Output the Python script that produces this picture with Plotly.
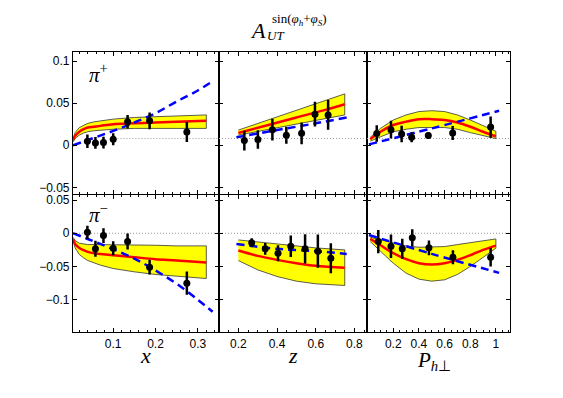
import plotly.graph_objects as go

RED = "#FF0000"
BLUE = "#0000FF"
YELLOW = "#FFFF00"

# ---- x panel ----
X_BAND = [0.005, 0.01, 0.02, 0.03, 0.04, 0.055, 0.07, 0.1, 0.15, 0.2, 0.25, 0.32]
X_PIP_UP = [0.008, 0.015, 0.021, 0.024, 0.026, 0.0278, 0.029, 0.031, 0.033, 0.034, 0.035, 0.036]
X_PIP_LO = [0.004, 0.008, 0.012, 0.0145, 0.016, 0.0172, 0.018, 0.019, 0.020, 0.020, 0.020, 0.020]
X_PIP_MID = [0.006, 0.011, 0.016, 0.019, 0.021, 0.022, 0.023, 0.025, 0.026, 0.027, 0.028, 0.029]
X_PIM_UP = [-0.006, -0.011, -0.015, -0.0163, -0.017, -0.017, -0.017, -0.017, -0.018, -0.018, -0.019, -0.019]
X_PIM_LO = [-0.011, -0.022, -0.032, -0.037, -0.041, -0.045, -0.048, -0.053, -0.058, -0.062, -0.065, -0.068]
X_PIM_MID = [-0.009, -0.016, -0.022, -0.0255, -0.028, -0.030, -0.031, -0.033, -0.036, -0.039, -0.041, -0.044]
X_DASH = [0.005, 0.05, 0.1, 0.15, 0.2, 0.25, 0.3, 0.335]
X_PIP_DASH = [0.0, 0.008, 0.017, 0.027, 0.038, 0.052, 0.065, 0.076]
X_PIM_DASH = [0.0, -0.011, -0.024, -0.038, -0.056, -0.076, -0.1, -0.118]
X_PTS = [0.039, 0.058, 0.077, 0.100, 0.134, 0.186, 0.274]
X_PIP_VAL = [0.0047, 0.0027, 0.0032, 0.0071, 0.028, 0.029, 0.0157]
X_PIP_ERR = [0.008, 0.007, 0.007, 0.007, 0.008, 0.010, 0.012]
X_PIM_VAL = [0.0015, -0.0234, -0.0035, -0.0225, -0.0125, -0.051, -0.075]
X_PIM_ERR = [0.010, 0.012, 0.011, 0.0105, 0.012, 0.011, 0.0175]

# ---- z panel ----
Z_BAND_P = [0.2, 0.35, 0.5, 0.65, 0.75]
Z_PIP_UP = [0.018, 0.0297, 0.0414, 0.053, 0.061]
Z_PIP_LO = [0.012, 0.0185, 0.025, 0.0315, 0.036]
Z_PIP_MID = [0.0145, 0.0238, 0.033, 0.042, 0.0486]
Z_BAND_M = [0.2, 0.3, 0.4, 0.5, 0.6, 0.75]
Z_PIM_UP = [-0.010, -0.013, -0.017, -0.020, -0.022, -0.025]
Z_PIM_MID = [-0.026, -0.034, -0.040, -0.045, -0.049, -0.052]
Z_PIM_LO = [-0.041, -0.055, -0.065, -0.072, -0.076, -0.0785]
Z_DASH = [0.19, 0.4, 0.6, 0.76]
Z_PIP_DASH = [0.0094, 0.018, 0.026, 0.033]
Z_PIM_DASH = [-0.016, -0.0234, -0.027, -0.031]
Z_PTS = [0.269, 0.339, 0.405, 0.471, 0.545, 0.611, 0.678]
Z_PIP_PTS = [0.231, 0.301, 0.376, 0.448, 0.527, 0.596, 0.664]
Z_PIP_VAL = [0.0055, 0.0067, 0.0185, 0.0118, 0.0141, 0.0368, 0.036]
Z_PIP_ERR = [0.0118, 0.011, 0.013, 0.010, 0.013, 0.0147, 0.0176]
Z_PIM_VAL = [-0.0144, -0.0234, -0.030, -0.0195, -0.0234, -0.027, -0.0375]
Z_PIM_ERR = [0.0068, 0.0088, 0.012, 0.016, 0.022, 0.025, 0.0225]

# ---- P_hT panel ----
P_BAND = [0.02, 0.1, 0.2, 0.3, 0.4, 0.5, 0.6, 0.7, 0.8, 0.9, 1.0]
P_PIP_MID = [0.007, 0.016, 0.024, 0.028, 0.031, 0.031, 0.030, 0.027, 0.022, 0.016, 0.0106]
P_PIP_UP = [0.0094, 0.020, 0.030, 0.036, 0.040, 0.041, 0.040, 0.036, 0.030, 0.023, 0.0165]
P_PIP_LO = [0.0047, 0.010, 0.016, 0.019, 0.021, 0.021, 0.021, 0.019, 0.015, 0.011, 0.0079]
P_PIM_MID = [-0.0085, -0.018, -0.030, -0.039, -0.045, -0.047, -0.045, -0.040, -0.033, -0.025, -0.0185]
P_PIM_UP = [-0.006, -0.010, -0.015, -0.019, -0.021, -0.021, -0.020, -0.017, -0.014, -0.011, -0.0085]
P_PIM_LO = [-0.0125, -0.027, -0.045, -0.060, -0.069, -0.072, -0.070, -0.062, -0.050, -0.036, -0.0225]
P_DASH = [0.01, 0.5, 1.025]
P_PIP_DASH = [0.001, 0.020, 0.041]
P_PIM_DASH = [-0.0025, -0.031, -0.0595]
P_PIP_PTS = [0.071, 0.182, 0.265, 0.343, 0.473, 0.663, 0.959]
P_PIP_VAL = [0.0138, 0.0185, 0.0133, 0.0094, 0.0114, 0.0145, 0.0215]
P_PIP_ERR = [0.0098, 0.0106, 0.0098, 0.0059, 0.0039, 0.0082, 0.0127]
P_PIM_PTS = [0.083, 0.182, 0.270, 0.348, 0.478, 0.665, 0.959]
P_PIM_VAL = [-0.0125, -0.0195, -0.0234, -0.0069, -0.0219, -0.036, -0.036]
P_PIM_ERR = [0.0175, 0.0175, 0.015, 0.013, 0.011, 0.0105, 0.0138]

panels = [
    # (row, col, band x, up, lo, mid, dash x, dash y, pts x, vals, errs)
    (1, 1, X_BAND, X_PIP_UP, X_PIP_LO, X_PIP_MID, X_DASH, X_PIP_DASH, X_PTS, X_PIP_VAL, X_PIP_ERR),
    (1, 2, Z_BAND_P, Z_PIP_UP, Z_PIP_LO, Z_PIP_MID, Z_DASH, Z_PIP_DASH, Z_PIP_PTS, Z_PIP_VAL, Z_PIP_ERR),
    (1, 3, P_BAND, P_PIP_UP, P_PIP_LO, P_PIP_MID, P_DASH, P_PIP_DASH, P_PIP_PTS, P_PIP_VAL, P_PIP_ERR),
    (2, 1, X_BAND, X_PIM_UP, X_PIM_LO, X_PIM_MID, X_DASH, X_PIM_DASH, X_PTS, X_PIM_VAL, X_PIM_ERR),
    (2, 2, Z_BAND_M, Z_PIM_UP, Z_PIM_LO, Z_PIM_MID, Z_DASH, Z_PIM_DASH, Z_PTS, Z_PIM_VAL, Z_PIM_ERR),
    (2, 3, P_BAND, P_PIM_UP, P_PIM_LO, P_PIM_MID, P_DASH, P_PIM_DASH, P_PIM_PTS, P_PIM_VAL, P_PIM_ERR),
]

# the page body has an 8px margin, so work in window pixels and shift
OFF = 8
W, H = 563 - OFF, 398 - OFF


def px_x(p):
    return (p - OFF) / W


def px_y(p):
    return 1 - (p - OFF) / H


col_dom = [[px_x(73), px_x(219)], [px_x(219), px_x(367)], [px_x(367), px_x(510)]]
row_dom = [[px_y(193), px_y(50)], [px_y(332), px_y(194)]]
x_ranges = [[0.005, 0.35], [0.1, 0.865], [-0.005, 1.11]]
y_ranges = [[-0.058, 0.111], [-0.149, 0.0575]]
x_ticks = [[0.1, 0.2, 0.3], [0.2, 0.4, 0.6, 0.8], [0.2, 0.4, 0.6, 0.8, 1]]
x_minor = [0.02, 0.05, 0.05]
y_ticks = [[-0.05, 0, 0.05, 0.1], [-0.1, -0.05, 0, 0.05]]

fig = go.Figure()
tickfont = dict(family="Liberation Sans, Arial", size=12, color="black")

for i, (r, c, bx, up, lo, mid, dx, dy, px, pv, pe) in enumerate(panels):
    n = i + 1
    xa = "x" if n == 1 else f"x{n}"
    ya = "y" if n == 1 else f"y{n}"
    # zero reference (sits slightly above 0 in the top row, as in the original)
    zero = 0.008 if r == 1 else 0.0
    x0 = 0.11 if (r == 1 and c == 1) else x_ranges[c - 1][0]
    fig.add_trace(go.Scatter(x=[x0, x_ranges[c - 1][1]], y=[zero, zero], mode="lines",
                             line=dict(color="#999999", width=1, dash="1px,2px"),
                             xaxis=xa, yaxis=ya, hoverinfo="skip"))
    fig.add_trace(go.Scatter(x=list(bx) + list(bx[::-1]), y=list(up) + list(lo[::-1]),
                             fill="toself", fillcolor=YELLOW, mode="lines",
                             line=dict(color="#333333", width=0.8),
                             xaxis=xa, yaxis=ya))
    fig.add_trace(go.Scatter(x=bx, y=mid, mode="lines", line=dict(color=RED, width=2.5, shape="spline"),
                             xaxis=xa, yaxis=ya))
    fig.add_trace(go.Scatter(x=dx, y=dy, mode="lines",
                             line=dict(color=BLUE, width=2.5, dash="8px,5px", shape="spline"),
                             xaxis=xa, yaxis=ya))
    fig.add_trace(go.Scatter(x=px, y=pv, mode="markers",
                             marker=dict(color="black", size=7),
                             error_y=dict(type="data", array=pe, color="black", thickness=2.5, width=0),
                             xaxis=xa, yaxis=ya))

    common = dict(showline=True, mirror="allticks", linecolor="black", linewidth=1.2,
                  ticks="inside", ticklen=4, tickcolor="black", showgrid=False,
                  zeroline=False, tickfont=tickfont)
    xkey = "xaxis" if n == 1 else f"xaxis{n}"
    ykey = "yaxis" if n == 1 else f"yaxis{n}"
    fig.update_layout({
        xkey: dict(common, domain=col_dom[c - 1], range=x_ranges[c - 1], anchor=ya,
                   tickvals=x_ticks[c - 1], showticklabels=(r == 2),
                   minor=dict(ticks="inside", ticklen=2, dtick=x_minor[c - 1], tickcolor="black")),
        ykey: dict(common, domain=row_dom[r - 1], range=y_ranges[r - 1], anchor=xa,
                   tickvals=y_ticks[r - 1], showticklabels=(c == 1)),
    })

serif = "Liberation Serif, Times New Roman, serif"
annotations = [
    dict(x=258, y=29, text="<i>A</i>", size=22),
    dict(x=275, y=34, text="<i>UT</i>", size=13),
    dict(x=299, y=18, text="sin(<i>φ</i><sub><i>h</i></sub>+<i>φ</i><sub><i>S</i></sub>)", size=13),
    dict(x=98, y=72, text="<i>π</i><sup>+</sup>", size=21),
    dict(x=98, y=213, text="<i>π</i><sup>−</sup>", size=21),
    dict(x=145, y=355, text="<i>x</i>", size=22),
    dict(x=293, y=355, text="<i>z</i>", size=22),
    dict(x=434, y=361, text="<i>P</i><sub><i>h</i>⊥</sub>", size=21),
]
for a in annotations:
    fig.add_annotation(x=px_x(a["x"]), y=px_y(a["y"]), xref="paper", yref="paper",
                       text=a["text"], showarrow=False, xanchor="center", yanchor="middle",
                       font=dict(family=serif, size=a["size"], color="black"))

fig.update_layout(
    width=W, height=H,
    margin=dict(l=0, r=0, t=0, b=0),
    paper_bgcolor="white", plot_bgcolor="white",
    showlegend=False,
)

fig.write_html("out.html")
